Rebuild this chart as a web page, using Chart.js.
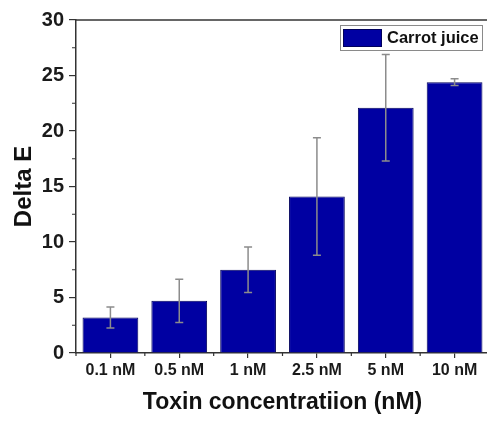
<!DOCTYPE html>
<html>
<head>
<meta charset="utf-8">
<script src="https://cdn.jsdelivr.net/npm/chart.js@4.4.1/dist/chart.umd.min.js"></script>
<style>
html,body{margin:0;padding:0;background:#fff;overflow:hidden;}
#wrap{width:495px;height:422px;}
</style>
</head>
<body>
<div id="wrap"><canvas id="c" width="495" height="422"></canvas></div>
<script>
const categories = ['0.1 nM', '0.5 nM', '1 nM', '2.5 nM', '5 nM', '10 nM'];
const deltaE = [3.2, 4.7, 7.5, 14.1, 22.1, 24.4];
const errorSD = [0.95, 1.95, 2.05, 5.3, 4.8, 0.3];
const seriesLabel = 'Carrot juice';
const yMin = 0, yMax = 30, yStep = 5, yMinorStep = 2.5;
const xTitle = 'Toxin concentratiion (nM)';
const yTitle = 'Delta E';

const FONT = "'Liberation Sans', Arial, sans-serif";
const AXIS = '#333333';

const extras = {
  id: 'extras',
  afterDatasetsDraw(chart) {
    const ctx = chart.ctx;
    const y = chart.scales.y;
    const meta = chart.getDatasetMeta(0);
    ctx.save();
    ctx.strokeStyle = '#8c8c8c';
    ctx.lineWidth = 1.5;
    meta.data.forEach((bar, i) => {
      const cx = bar.x;
      const yt = y.getPixelForValue(deltaE[i] + errorSD[i]);
      const yb = y.getPixelForValue(deltaE[i] - errorSD[i]);
      ctx.beginPath();
      ctx.moveTo(cx, yb); ctx.lineTo(cx, yt);
      ctx.moveTo(cx - 4, yt); ctx.lineTo(cx + 4, yt);
      ctx.moveTo(cx - 4, yb); ctx.lineTo(cx + 4, yb);
      ctx.stroke();
    });
    ctx.restore();
  },
  afterDraw(chart) {
    const ctx = chart.ctx;
    const ca = chart.chartArea;
    const x = chart.scales.x, y = chart.scales.y;
    ctx.save();
    ctx.strokeStyle = AXIS;
    ctx.lineWidth = 1.5;
    // frame top
    ctx.beginPath();
    ctx.moveTo(ca.left, ca.top); ctx.lineTo(ca.right + 10, ca.top);
    ctx.stroke();
    // y minor ticks
    ctx.lineWidth = 1.2;
    ctx.beginPath();
    for (let v = yMin + yMinorStep; v < yMax; v += yStep) {
      const py = y.getPixelForValue(v);
      ctx.moveTo(ca.left - 4, py); ctx.lineTo(ca.left, py);
    }
    // x minor ticks at category boundaries
    for (let i = 0; i <= categories.length; i++) {
      const px = x.getPixelForValue(i - 0.5);
      ctx.moveTo(px, ca.bottom); ctx.lineTo(px, ca.bottom + 3);
    }
    ctx.stroke();
    // legend
    const ds = chart.data.datasets[0];
    const bx = 340, by = 25, bw = 142, bh = 25;
    ctx.fillStyle = '#ffffff';
    ctx.fillRect(bx, by, bw, bh);
    ctx.strokeStyle = '#8a8a8a';
    ctx.lineWidth = 1;
    ctx.strokeRect(bx + 0.5, by + 0.5, bw, bh);
    ctx.fillStyle = ds.backgroundColor;
    ctx.fillRect(bx + 3, by + 4, 39, 18);
    ctx.strokeStyle = ds.borderColor;
    ctx.strokeRect(bx + 3.5, by + 4.5, 38, 17);
    ctx.fillStyle = '#111';
    ctx.font = 'bold 16.5px ' + FONT;
    ctx.textBaseline = 'middle';
    ctx.textAlign = 'left';
    ctx.fillText(ds.label, bx + 47, by + bh / 2 + 1);
    ctx.restore();
  }
};

new Chart(document.getElementById('c'), {
  type: 'bar',
  data: {
    labels: categories,
    datasets: [{
      label: seriesLabel,
      data: deltaE,
      backgroundColor: '#0000a2',
      borderColor: '#00005c',
      borderWidth: 1,
      barPercentage: 0.81,
      categoryPercentage: 1.0
    }]
  },
  options: {
    responsive: false,
    animation: false,
    devicePixelRatio: 1,
    layout: { padding: { left: 0, right: 6, top: 20, bottom: 0 } },
    plugins: { legend: { display: false }, tooltip: { enabled: false } },
    scales: {
      x: {
        grid: { display: true, drawOnChartArea: false, drawTicks: true, tickLength: 5, offset: false, color: AXIS, lineWidth: 1.2 },
        border: { display: true, color: AXIS, width: 1.5 },
        ticks: { color: '#1a1a1a', font: { family: FONT, size: 16, weight: 'bold' }, padding: 3, maxRotation: 0 },
        title: { display: true, text: xTitle, color: '#111', font: { family: FONT, size: 23, weight: 'bold' }, padding: { top: 0, bottom: 6 } },
        afterFit(s) { s.height = 69; }
      },
      y: {
        min: yMin, max: yMax,
        grid: { display: true, drawOnChartArea: false, drawTicks: true, tickLength: 7, color: AXIS, lineWidth: 1.2 },
        border: { display: true, color: AXIS, width: 1.5 },
        ticks: { stepSize: yStep, color: '#1a1a1a', font: { family: FONT, size: 20, weight: 'bold' }, padding: 5 },
        title: { display: true, text: yTitle, color: '#111', font: { family: FONT, size: 24, weight: 'bold' }, padding: { top: 10, bottom: 0 } },
        afterFit(s) { s.width = 76; }
      }
    }
  },
  plugins: [extras]
});
</script>
</body>
</html>
